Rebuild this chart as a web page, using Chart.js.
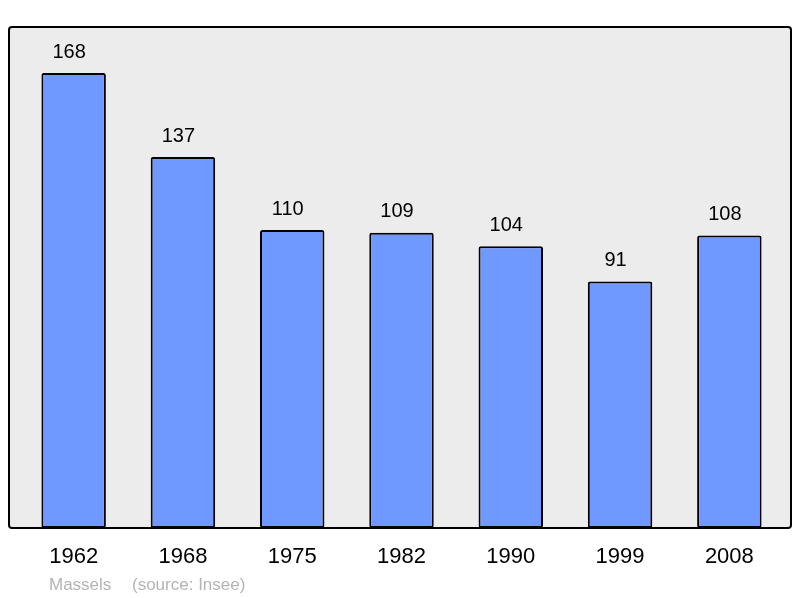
<!DOCTYPE html>
<html>
<head>
<meta charset="utf-8">
<script src="https://cdn.jsdelivr.net/npm/chart.js@4/dist/chart.umd.min.js"></script>
<style>
html,body{margin:0;padding:0;background:#fff;}
#wrap{width:800px;height:598px;position:relative;}
</style>
</head>
<body>
<div id="wrap"><canvas id="c"></canvas></div>
<script>
const years = ["1962","1968","1975","1982","1990","1999","2008"];
const population = [168,137,110,109,104,91,108];
const footerName = "Massels";
const footerSource = "(source: Insee)";

const FONT = "'Liberation Sans', Arial, sans-serif";

const boxPlugin = {
  id: 'box',
  beforeDraw(chart) {
    const {ctx, chartArea: a} = chart;
    const x0 = a.left - 10, x1 = a.right + 7, y0 = a.top, y1 = a.bottom;
    ctx.save();
    ctx.beginPath();
    ctx.roundRect(x0, y0, x1 - x0, y1 - y0, 3);
    ctx.fillStyle = '#ececec';
    ctx.fill();
    ctx.lineWidth = 2;
    ctx.strokeStyle = '#000';
    ctx.stroke();
    ctx.restore();
  },
  afterDatasetsDraw(chart) {
    const {ctx} = chart;
    const meta = chart.getDatasetMeta(0);
    ctx.save();
    ctx.font = "20px " + FONT;
    ctx.fillStyle = '#000';
    ctx.textAlign = 'center';
    ctx.textBaseline = 'middle';
    meta.data.forEach((bar, i) => {
      ctx.fillText(String(population[i]), bar.x - 4.5, bar.y - 21);
    });
    ctx.font = "17px " + FONT;
    ctx.fillStyle = '#b4b4b4';
    ctx.textAlign = 'left';
    ctx.fillText(footerName, 49, 585);
    ctx.fillText(footerSource, 132, 585);
    ctx.restore();
  }
};

new Chart(document.getElementById('c'), {
  type: 'bar',
  data: {
    labels: years,
    datasets: [{
      data: population,
      backgroundColor: '#7099ff',
      borderColor: '#000',
      borderWidth: 2,
      borderRadius: 2,
      borderSkipped: false,
      barPercentage: 0.59,
      categoryPercentage: 1.0
    }]
  },
  options: {
    responsive: true,
    maintainAspectRatio: false,
    animation: false,
    layout: {padding: {left: 19, right: 16, top: 27, bottom: 0}},
    plugins: {legend: {display: false}, tooltip: {enabled: false}},
    scales: {
      x: {
        grid: {display: false, drawTicks: false},
        border: {display: false},
        ticks: {color: '#000', font: {size: 22, family: FONT}, padding: 16, maxRotation: 0},
        afterFit(scale) { scale.height = 70; }
      },
      y: {display: false, min: 0, max: 185}
    }
  },
  plugins: [boxPlugin]
});
</script>
</body>
</html>
